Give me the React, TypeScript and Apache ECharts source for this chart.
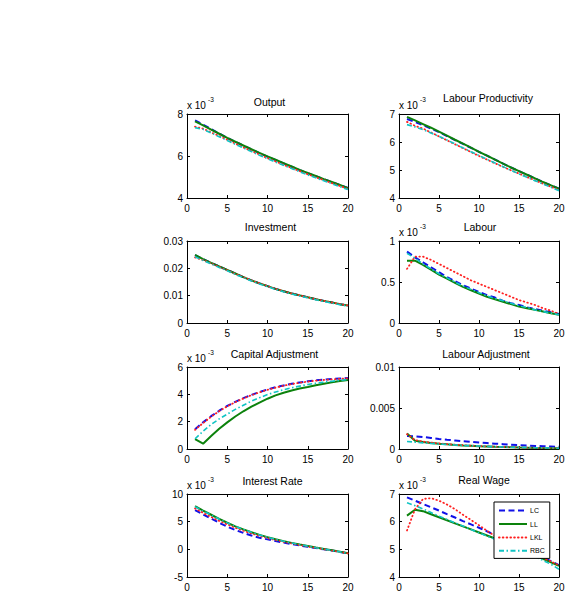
import React, { useEffect, useRef } from "react";
import * as echarts from "echarts";

// ---------- data ----------
const periods = [1, 2, 3, 4, 5, 6, 7, 8, 9, 10, 11, 12, 13, 14, 15, 16, 17, 18, 19, 20];
const seriesNames = ["LC", "LL", "LKL", "RBC"];

// Output (x 10^-3)
const outputLC = [7.70, 7.49, 7.28, 7.07, 6.86, 6.68, 6.50, 6.32, 6.14, 5.97, 5.81, 5.65, 5.49, 5.33, 5.18, 5.04, 4.90, 4.76, 4.62, 4.48];
const outputLL = [7.65, 7.46, 7.26, 7.06, 6.86, 6.68, 6.50, 6.32, 6.15, 5.98, 5.82, 5.66, 5.50, 5.34, 5.19, 5.05, 4.90, 4.76, 4.62, 4.47];
const outputLKL = [7.40, 7.30, 7.13, 6.95, 6.77, 6.59, 6.41, 6.24, 6.07, 5.90, 5.74, 5.58, 5.43, 5.28, 5.13, 4.99, 4.85, 4.71, 4.57, 4.43];
const outputRBC = [7.35, 7.27, 7.10, 6.92, 6.74, 6.56, 6.38, 6.21, 6.04, 5.87, 5.71, 5.56, 5.40, 5.25, 5.10, 4.96, 4.82, 4.68, 4.54, 4.40];

// Labour Productivity (x 10^-3)
const prodLC = [6.82, 6.72, 6.60, 6.48, 6.35, 6.21, 6.07, 5.93, 5.79, 5.65, 5.51, 5.37, 5.23, 5.09, 4.96, 4.83, 4.70, 4.57, 4.45, 4.33];
const prodLL = [6.90, 6.77, 6.64, 6.51, 6.37, 6.23, 6.08, 5.94, 5.80, 5.65, 5.51, 5.37, 5.23, 5.09, 4.96, 4.83, 4.70, 4.57, 4.45, 4.33];
const prodLKL = [6.72, 6.58, 6.48, 6.34, 6.20, 6.06, 5.92, 5.78, 5.64, 5.50, 5.37, 5.24, 5.11, 4.99, 4.87, 4.75, 4.63, 4.51, 4.40, 4.29];
const prodRBC = [6.62, 6.54, 6.44, 6.32, 6.20, 6.07, 5.93, 5.79, 5.65, 5.52, 5.38, 5.25, 5.12, 4.99, 4.86, 4.74, 4.62, 4.50, 4.38, 4.26];

// Investment
const invLC = [0.0248, 0.0234, 0.0220, 0.0207, 0.0194, 0.0181, 0.0168, 0.0156, 0.0145, 0.0135, 0.0125, 0.0116, 0.0108, 0.0101, 0.0094, 0.0087, 0.0081, 0.0075, 0.0069, 0.0064];
const invLL = [0.0249, 0.0234, 0.0220, 0.0207, 0.0194, 0.0181, 0.0168, 0.0156, 0.0145, 0.0135, 0.0125, 0.0116, 0.0108, 0.0101, 0.0094, 0.0087, 0.0081, 0.0075, 0.0069, 0.0064];
const invLKL = [0.0240, 0.0230, 0.0218, 0.0205, 0.0193, 0.0180, 0.0168, 0.0156, 0.0145, 0.0135, 0.0125, 0.0116, 0.0108, 0.0101, 0.0094, 0.0087, 0.0081, 0.0075, 0.0069, 0.0064];
const invRBC = [0.0242, 0.0229, 0.0216, 0.0203, 0.0191, 0.0178, 0.0166, 0.0154, 0.0143, 0.0133, 0.0123, 0.0114, 0.0106, 0.0099, 0.0092, 0.0085, 0.0079, 0.0073, 0.0067, 0.0062];

// Labour (x 10^-3)
const labLC = [0.87, 0.80, 0.74, 0.68, 0.62, 0.56, 0.51, 0.46, 0.42, 0.38, 0.34, 0.31, 0.27, 0.24, 0.22, 0.19, 0.17, 0.15, 0.13, 0.11];
const labLL = [0.76, 0.76, 0.71, 0.65, 0.59, 0.54, 0.49, 0.44, 0.40, 0.36, 0.32, 0.29, 0.26, 0.23, 0.20, 0.18, 0.16, 0.14, 0.12, 0.10];
const labLKL = [0.66, 0.81, 0.81, 0.77, 0.72, 0.67, 0.62, 0.57, 0.52, 0.48, 0.44, 0.40, 0.36, 0.32, 0.28, 0.25, 0.22, 0.18, 0.15, 0.11];
const labRBC = [0.85, 0.79, 0.72, 0.66, 0.60, 0.55, 0.50, 0.45, 0.41, 0.37, 0.33, 0.30, 0.27, 0.24, 0.21, 0.19, 0.16, 0.14, 0.12, 0.10];

// Capital Adjustment (x 10^-3)
const capLC = [1.45, 1.95, 2.40, 2.80, 3.15, 3.45, 3.72, 3.96, 4.17, 4.36, 4.52, 4.65, 4.77, 4.87, 4.95, 5.02, 5.07, 5.12, 5.16, 5.20];
const capLL = [0.72, 0.39, 0.95, 1.48, 1.95, 2.38, 2.76, 3.10, 3.40, 3.68, 3.92, 4.12, 4.28, 4.42, 4.54, 4.67, 4.78, 4.88, 4.97, 5.05];
const capLKL = [1.40, 1.90, 2.36, 2.77, 3.12, 3.43, 3.70, 3.94, 4.15, 4.33, 4.49, 4.63, 4.75, 4.85, 4.93, 5.00, 5.05, 5.10, 5.14, 5.18];
const capRBC = [0.75, 1.30, 1.80, 2.20, 2.55, 2.90, 3.20, 3.50, 3.75, 3.98, 4.17, 4.34, 4.48, 4.60, 4.72, 4.81, 4.89, 4.96, 5.02, 5.08];

// Labour Adjustment
const ladjLC = [0.0016, 0.00155, 0.00146, 0.00135, 0.00123, 0.00113, 0.00104, 0.00095, 0.00087, 0.00079, 0.00072, 0.00065, 0.00059, 0.00053, 0.00048, 0.00043, 0.00038, 0.00034, 0.0003, 0.00026];
const ladjLL = [0.0019, 0.0010, 0.00085, 0.00074, 0.00065, 0.00057, 0.0005, 0.00044, 0.00039, 0.00034, 0.0003, 0.00026, 0.00023, 0.0002, 0.00017, 0.00015, 0.00013, 0.00011, 0.0001, 0.00009];
const ladjLKL = [0.0018, 0.0011, 0.0009, 0.00078, 0.00068, 0.0006, 0.00053, 0.00047, 0.00041, 0.00036, 0.00032, 0.00028, 0.00025, 0.00022, 0.00019, 0.00017, 0.00015, 0.00013, 0.00011, 0.0001];
const ladjRBC = [0.00092, 0.00083, 0.00075, 0.00068, 0.00061, 0.00055, 0.00049, 0.00044, 0.0004, 0.00036, 0.00032, 0.00028, 0.00025, 0.00022, 0.0002, 0.00018, 0.00016, 0.00014, 0.00012, 0.0001];

// Interest Rate (x 10^-3)
const rateLC = [7.1, 6.3, 5.55, 4.8, 4.1, 3.5, 2.97, 2.5, 2.1, 1.8, 1.5, 1.22, 0.95, 0.7, 0.46, 0.23, 0.0, -0.23, -0.47, -0.73];
const rateLL = [7.8, 7.0, 6.25, 5.5, 4.8, 4.15, 3.6, 3.1, 2.62, 2.2, 1.82, 1.48, 1.17, 0.88, 0.6, 0.32, 0.07, -0.18, -0.45, -0.72];
const rateLKL = [7.4, 6.6, 5.85, 5.15, 4.5, 3.9, 3.36, 2.87, 2.43, 2.03, 1.68, 1.36, 1.06, 0.78, 0.52, 0.27, 0.03, -0.21, -0.46, -0.72];
const rateRBC = [7.7, 6.95, 6.2, 5.48, 4.78, 4.14, 3.58, 3.08, 2.6, 2.18, 1.8, 1.46, 1.15, 0.86, 0.58, 0.3, 0.05, -0.2, -0.46, -0.74];

// Real Wage (x 10^-3)
const wageLC = [6.88, 6.76, 6.64, 6.52, 6.40, 6.27, 6.15, 6.02, 5.90, 5.78, 5.65, 5.52, 5.39, 5.25, 5.12, 4.98, 4.85, 4.71, 4.57, 4.43];
const wageLL = [6.22, 6.43, 6.38, 6.27, 6.16, 6.05, 5.94, 5.83, 5.72, 5.61, 5.50, 5.39, 5.28, 5.16, 5.04, 4.92, 4.79, 4.66, 4.53, 4.40];
const wageLKL = [5.68, 6.45, 6.82, 6.85, 6.76, 6.62, 6.45, 6.25, 6.06, 5.87, 5.67, 5.48, 5.34, 5.21, 5.08, 4.95, 4.82, 4.69, 4.56, 4.42];
const wageRBC = [6.68, 6.58, 6.46, 6.33, 6.20, 6.08, 5.96, 5.84, 5.72, 5.60, 5.48, 5.36, 5.24, 5.12, 4.99, 4.86, 4.73, 4.60, 4.46, 4.28];

// y-axis ticks (min, max, interval)
const outputTicks = [4, 8, 2];
const prodTicks = [4, 7, 1];
const invTicks = [0, 0.03, 0.01];
const labTicks = [0, 1, 0.5];
const capTicks = [0, 6, 2];
const ladjTicks = [0, 0.01, 0.005];
const rateTicks = [-5, 10, 5];
const wageTicks = [4, 7, 1];

const panels = [
  { title: "Output", scaled: true, ticks: outputTicks, data: [outputLC, outputLL, outputLKL, outputRBC] },
  { title: "Labour Productivity", scaled: true, ticks: prodTicks, data: [prodLC, prodLL, prodLKL, prodRBC] },
  { title: "Investment", scaled: false, ticks: invTicks, data: [invLC, invLL, invLKL, invRBC] },
  { title: "Labour", scaled: true, ticks: labTicks, data: [labLC, labLL, labLKL, labRBC] },
  { title: "Capital Adjustment", scaled: true, ticks: capTicks, data: [capLC, capLL, capLKL, capRBC] },
  { title: "Labour Adjustment", scaled: false, ticks: ladjTicks, data: [ladjLC, ladjLL, ladjLKL, ladjRBC] },
  { title: "Interest Rate", scaled: true, ticks: rateTicks, data: [rateLC, rateLL, rateLKL, rateRBC] },
  { title: "Real Wage", scaled: true, ticks: wageTicks, data: [wageLC, wageLL, wageLKL, wageRBC] },
];

// ---------- layout & style ----------
const FONT = "'Liberation Sans', Arial, Helvetica, sans-serif";
const colLeft = [187, 399];
const colWidth = [161, 160];
const rowTop = [114, 241, 367, 494];
const rowHeight = [84, 82, 82, 83];
const titleOffsetX = [2, 9, 3, 1, 7, 7, 5, 5];
const titleOffsetY = [12, 16, 14, 14, 13, 13, 13, 14];

const lineStyles = [
  { color: "#1010e8", width: 2, type: [6, 3.5] },
  { color: "#0c820c", width: 2, type: "solid" },
  { color: "#ff2020", width: 1.8, type: [0.6, 3.2], cap: "round" },
  { color: "#10c4c4", width: 1.6, type: [5, 2.5, 1.5, 2.5] },
];

function buildOption() {
  const grid: any[] = [];
  const xAxis: any[] = [];
  const yAxis: any[] = [];
  const series: any[] = [];
  const graphic: any[] = [];

  panels.forEach((p, i) => {
    const col = i % 2;
    const row = Math.floor(i / 2);
    const left = colLeft[col];
    const top = rowTop[row];
    const width = colWidth[col];
    const height = rowHeight[row];
    grid.push({ left, top, width, height, containLabel: false, show: false });

    const axisCommon = {
      axisLine: { show: true, onZero: false, lineStyle: { color: "#000", width: 1 } },
      axisTick: { show: true, inside: true, length: 3, lineStyle: { color: "#000", width: 1 } },
      splitLine: { show: false },
    };
    const xBase = { type: "value", gridIndex: i, min: 0, max: 20, interval: 5, ...axisCommon };
    xAxis.push({
      ...xBase,
      position: "bottom",
      axisLabel: { show: true, fontSize: 10, color: "#000", fontFamily: FONT, margin: 5 },
    });
    xAxis.push({ ...xBase, position: "top", axisLabel: { show: false } });

    const [ymin, ymax, yint] = p.ticks;
    const yBase = { type: "value", gridIndex: i, min: ymin, max: ymax, interval: yint, ...axisCommon };
    yAxis.push({
      ...yBase,
      position: "left",
      axisLabel: { show: true, fontSize: 10, color: "#000", fontFamily: FONT, margin: 4 },
    });
    yAxis.push({ ...yBase, position: "right", axisLabel: { show: false } });

    p.data.forEach((arr, k) => {
      series.push({
        type: "line",
        name: seriesNames[k],
        xAxisIndex: 2 * i,
        yAxisIndex: 2 * i,
        data: periods.map((t, j) => [t, arr[j]]),
        symbol: "none",
        showSymbol: false,
        lineStyle: lineStyles[k],
        itemStyle: { color: lineStyles[k].color },
        z: 2 + k,
      });
    });

    graphic.push({
      type: "text",
      x: left + width / 2 + titleOffsetX[i],
      y: top - titleOffsetY[i],
      style: {
        text: p.title,
        align: "center",
        verticalAlign: "middle",
        textAlign: "center",
        textVerticalAlign: "middle",
        font: `10.5px ${FONT}`,
        fill: "#000",
      },
    });
    if (p.scaled) {
      graphic.push({
        type: "text",
        x: left,
        y: top - 9,
        style: {
          text: "x 10",
          align: "left",
          verticalAlign: "middle",
          textAlign: "left",
          textVerticalAlign: "middle",
          font: `10px ${FONT}`,
          fill: "#000",
        },
      });
      graphic.push({
        type: "text",
        x: left + 21,
        y: top - 15,
        style: {
          text: "-3",
          align: "left",
          verticalAlign: "middle",
          textAlign: "left",
          textVerticalAlign: "middle",
          font: `6.5px ${FONT}`,
          fill: "#000",
        },
      });
    }
  });

  return {
    animation: false,
    backgroundColor: "#fff",
    grid,
    xAxis,
    yAxis,
    series,
    graphic,
    legend: {
      data: seriesNames,
      orient: "vertical",
      left: 494,
      top: 502,
      z: 20,
      zlevel: 0,
      padding: [5, 5, 4, 4],
      itemWidth: 28,
      itemHeight: 9,
      itemGap: 6.2,
      backgroundColor: "#fff",
      borderColor: "#000",
      borderWidth: 1,
      borderRadius: 0,
      selectedMode: false,
      itemStyle: { opacity: 0 },
      textStyle: { fontSize: 7, color: "#000", fontFamily: FONT, padding: [0, 0, 0, -2] },
    },
  };
}

export default function App() {
  const ref = useRef<HTMLDivElement>(null);
  useEffect(() => {
    if (!ref.current) return;
    const chart = echarts.init(ref.current, undefined, { renderer: "svg" });
    chart.setOption(buildOption() as any);
    return () => chart.dispose();
  }, []);
  return (
    <div
      ref={ref}
      style={{ position: "absolute", left: 0, top: 0, width: 572, height: 604, background: "#fff" }}
    />
  );
}
